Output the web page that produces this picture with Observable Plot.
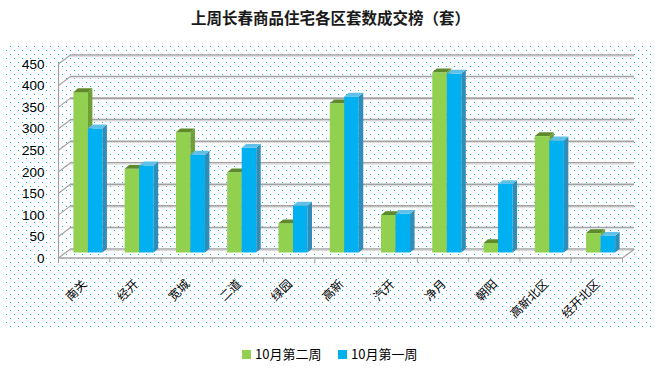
<!DOCTYPE html>
<html>
<head>
<meta charset="utf-8">
<script src="https://cdn.jsdelivr.net/npm/d3@7"></script>
<script src="https://cdn.jsdelivr.net/npm/@observablehq/plot@0.6"></script>
<style>
  html, body { margin: 0; padding: 0; background: #fff; }
  #wrap { position: relative; width: 661px; height: 369px; overflow: hidden; background: #fff; }
  #dots {
    position: absolute; left: 5px; top: 44px; width: 649px; height: 286px;
    background-image: url("data:image/svg+xml,%3Csvg xmlns='http://www.w3.org/2000/svg' width='8' height='8'%3E%3Crect x='5' y='2' width='1' height='1' fill='%2300B0F0'/%3E%3Crect x='1' y='6' width='1' height='1' fill='%2300B0F0'/%3E%3C/svg%3E");
    background-size: 8px 8px;
  }
  #title {
    position: absolute; left: 0; top: 6px; width: 661px; text-align: center;
    font-family: "Noto Sans CJK SC", sans-serif; font-weight: bold; font-size: 15.5px; color: #1a1a1a;
    line-height: 22px;
  }
  #chart { position: absolute; left: 0; top: 0; }
  .lg { position: absolute; font-family: "Noto Sans CJK SC", sans-serif; font-size: 13px; line-height: 16px; color: #000; }
  .sw { position: absolute; width: 9px; height: 9px; }
</style>
</head>
<body>
<div id="wrap">
  <div id="dots"></div>
  <div id="title">上周长春商品住宅各区套数成交榜（套）</div>
  <div id="chart"></div>
  <div id="legend"></div>
</div>
<script>
// ---- data ----
const categories = ["南关", "经开", "宽城", "二道", "绿园", "高新", "汽开", "净月", "朝阳", "高新北区", "经开北区"];
const seriesNames = ["10月第二周", "10月第一周"];
const week2 = [372, 194, 279, 186, 68, 346, 87, 418, 22, 270, 45];   // 10月第二周
const week1 = [288, 202, 227, 243, 109, 362, 90, 415, 159, 260, 39]; // 10月第一周
const yTicks = [0, 50, 100, 150, 200, 250, 300, 350, 400, 450];

// ---- styles ----
const frontColors = ["#92D050", "#00B0F0"];
const sideColors = ["#6F9F37", "#2F8DB8"];
const topColors = ["#5E8A2C", "#5FC0E8"];
const gridColor = "#a3a3a3";

// layout (pixels)
const W = 661, H = 369;
const pL = 58, pR = 622, pT = 63.5, pB = 257.5;
const pxPerX = (pR - pL) / categories.length;
const pxPerY = (pB - pT) / 450;
const wallDX = 12 / pxPerX, wallDY = 9 / pxPerY;     // floor depth
const barDX = 4.5 / pxPerX, barDY = 3.8 / pxPerY;    // bar depth
const barStart = 0.30, barW = 0.283;

const seriesValues = [week2, week1];
const bars = seriesValues.map((vals, k) => vals.map((v, i) => ({
  i, v, k,
  x1: i + barStart + k * barW,
  x2: i + barStart + (k + 1) * barW,
  key: k + "-" + i
})));

function barMarks(data, k) {
  const side = data.flatMap(d => [
    {x: d.x2, y1: 0, y2: d.v, z: d.key},
    {x: d.x2 + barDX, y1: barDY, y2: d.v + barDY, z: d.key}
  ]);
  const cap = data.flatMap(d => [
    {y: d.v, x1: d.x1, x2: d.x2, z: d.key},
    {y: d.v + barDY, x1: d.x1 + barDX, x2: d.x2 + barDX, z: d.key}
  ]);
  return [
    Plot.rect(data, {x1: "x1", x2: "x2", y1: 0, y2: "v", fill: frontColors[k], dy: -5}),
    Plot.areaY(side, {x: "x", y1: "y1", y2: "y2", z: "z", fill: sideColors[k], curve: "linear", dy: -5}),
    Plot.areaX(cap, {y: "y", x1: "x1", x2: "x2", z: "z", fill: topColors[k], curve: "linear", dy: -5})
  ];
}

const chart = Plot.plot({
  width: W, height: H,
  marginLeft: pL, marginRight: W - pR, marginTop: pT, marginBottom: H - pB,
  x: {type: "linear", domain: [0, categories.length], axis: null},
  y: {type: "linear", domain: [0, 450], axis: null},
  style: {background: "none", overflow: "visible"},
  marks: [
    // back wall gridlines
    Plot.ruleY(yTicks, {x1: 0, x2: categories.length, dx: 12, dy: -9, stroke: gridColor, strokeWidth: 1.6}),
    Plot.ruleY(yTicks, {x1: 0, x2: categories.length, dx: 12, dy: -7.6, stroke: "#dcdcdc", strokeWidth: 1}),
    // left wall diagonals
    Plot.link(yTicks, {x1: 0, y1: d => d, x2: wallDX, y2: d => d + wallDY, stroke: gridColor, strokeWidth: 1.2}),
    // left axis line
    Plot.ruleX([0], {y1: 0, y2: 450, stroke: gridColor, strokeWidth: 1.2}),
    // floor front edge + right edge
    Plot.ruleY([0], {x1: 0, x2: categories.length, stroke: gridColor, strokeWidth: 1.4}),
    Plot.link([0], {x1: categories.length, y1: 0, x2: categories.length + wallDX, y2: wallDY, stroke: gridColor, strokeWidth: 1.2}),
    // category boundary ticks
    Plot.axisX({ticks: d3.range(categories.length + 1), tickFormat: () => "", tickSize: 5, stroke: gridColor, label: null}),
    // bars
    ...barMarks(bars[0], 0),
    ...barMarks(bars[1], 1),
    // y tick labels
    Plot.text(yTicks, {x: 0, y: d => d, text: d => String(d), textAnchor: "end", dx: -14, dy: 0.5,
      fontSize: 13.5, fontFamily: "Liberation Sans, Arial, sans-serif", fill: "#000"}),
    // x labels
    Plot.text(categories, {x: (d, i) => i + 0.5, y: 0, text: d => d, rotate: -45, textAnchor: "end",
      dx: 1, dy: 24, fontSize: 12, fontFamily: "Noto Sans CJK SC, sans-serif", fill: "#000"})
  ]
});
document.getElementById("chart").appendChild(chart);

// legend
const legend = document.getElementById("legend");
const lgPos = [{sw: 242, tx: 255}, {sw: 338, tx: 351}];
seriesNames.forEach((name, k) => {
  const s = document.createElement("div");
  s.className = "sw";
  s.style.left = lgPos[k].sw + "px"; s.style.top = "350px"; s.style.background = frontColors[k];
  legend.appendChild(s);
  const t = document.createElement("div");
  t.className = "lg";
  t.style.left = lgPos[k].tx + "px"; t.style.top = "346px";
  t.textContent = name;
  legend.appendChild(t);
});
</script>
</body>
</html>
